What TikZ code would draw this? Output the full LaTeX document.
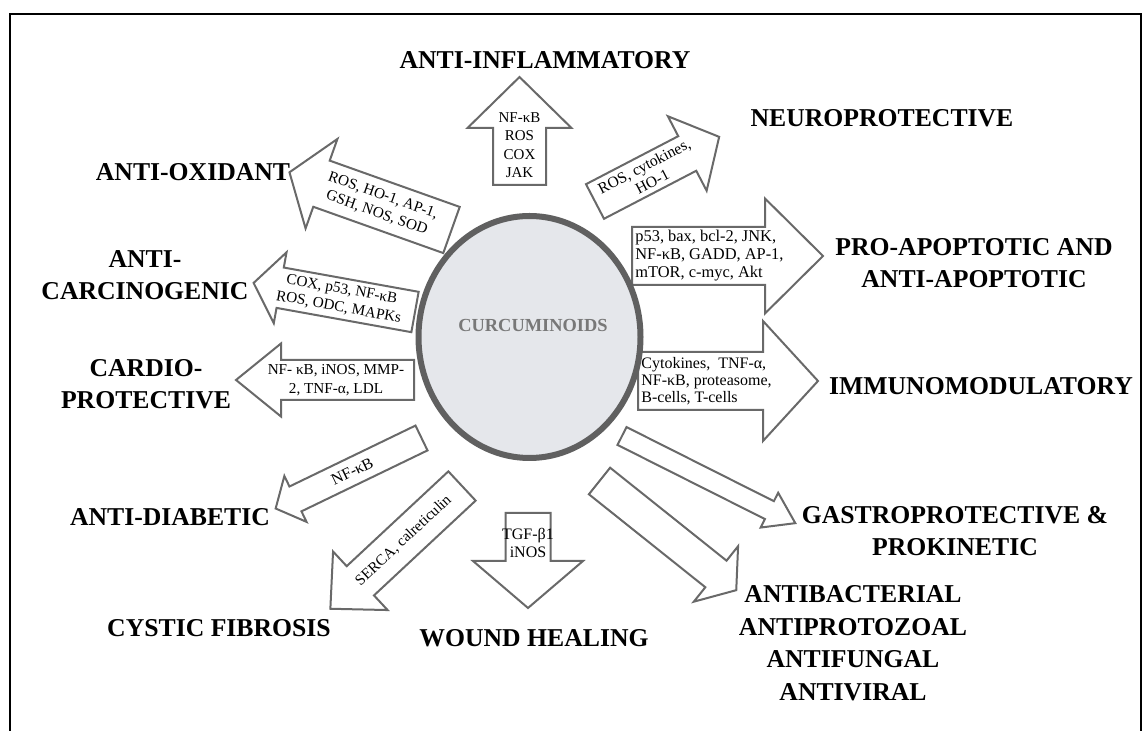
\documentclass[tikz,border=0pt]{standalone}
\usepackage{fontspec}
\setmainfont{Liberation Serif}
\usetikzlibrary{shapes.geometric}
\definecolor{rimgray}{RGB}{96,96,96}
\definecolor{coregray}{RGB}{229,231,235}
\definecolor{arrowgray}{RGB}{105,105,105}
\definecolor{titlegray}{RGB}{120,120,120}

% block arrow: name, tail, direction, length, shaft width, head width, head length, text spot
\newcommand{\blockarrow}[8]{%
  \begin{scope}[shift={#2},rotate=#3]
    \draw[arrowbody] (0,{-#5/2}) -- ({#4-(#7)},{-#5/2}) -- ({#4-(#7)},{-#6/2}) -- (#4,0)
      -- ({#4-(#7)},{#6/2}) -- ({#4-(#7)},{#5/2}) -- (0,{#5/2}) -- cycle;
    \coordinate (#1) at (#8,0);
  \end{scope}}

\begin{document}
\begin{tikzpicture}[x=0.5pt,y=-0.5pt,
 arrowbody/.style={draw=arrowgray,fill=white,line width=1pt},
 tag/.style={font=\fontsize{7.6}{9.2}\selectfont,align=center,inner sep=0pt},
 effect/.style={font=\fontsize{12.85}{16.3}\selectfont\bfseries,align=center,inner sep=0pt},
 core/.style={ellipse,draw=rimgray,fill=coregray,line width=3pt,minimum width=111pt,minimum height=121pt,inner sep=0pt}]
\useasboundingbox (0,0) rectangle (1147,731);
\draw[line width=1.3pt] (10,731) -- (10,14) -- (1141,14) -- (1141,731);

% arrows round the centre
\blockarrow{inflam}{(519.5,185)}{90}{108}{53}{104}{51}{40}
\blockarrow{neuro}{(595,201.5)}{27.5}{140}{39}{84}{36}{60}
\blockarrow{oxid}{(451.5,230)}{-19.6}{-172}{49}{95}{-34}{-76}
\blockarrow{carcino}{(415,312)}{-10.2}{-164}{41}{72}{-27}{-76}
\blockarrow{cardio}{(414,380)}{0}{-178}{40}{73}{-45}{-78}
\blockarrow{apopt}{(632,256)}{0}{191}{58}{115}{58}{3}
\blockarrow{immuno}{(638,381)}{0}{180}{58}{120}{55}{3}
\blockarrow{gastro}{(622,436)}{-26.7}{194}{20}{39}{29}{90}
\blockarrow{microb}{(599.5,481)}{-38.6}{175}{34}{71}{26}{90}
\blockarrow{wound}{(528,513)}{-90}{95}{45}{110}{47}{30}
\blockarrow{cystic}{(462,486)}{43}{-180}{40}{80}{-41}{-80}
\blockarrow{diabet}{(421.5,438)}{25.8}{-162}{27.6}{51}{-22}{-77}

\node[tag,font=\fontsize{7.5}{9.2}\selectfont] (inflam-t) at (inflam) {NF-κB\\ROS\\COX\\JAK};
\node[tag,rotate=27.5,font=\fontsize{7.8}{8.8}\selectfont] (neuro-t) at (neuro) {ROS, cytokines,\\HO-1};
\node[tag,rotate=-19.6] (oxid-t) at (oxid) {ROS, HO-1, AP-1,\\GSH, NOS, SOD};
\node[tag,rotate=-10.2] (carcino-t) at (carcino) {COX, p53, NF-κB\\ROS, ODC, MAPKs};
\node[tag] (cardio-t) at (cardio) {NF- κB, iNOS, MMP-\\2, TNF-α, LDL};
\node[tag,anchor=west,align=left,font=\fontsize{8.2}{9}\selectfont] (apopt-t) at (apopt) {p53, bax, bcl-2, JNK,\\NF-κB, GADD, AP-1,\\mTOR, c-myc, Akt};
\node[tag,anchor=west,align=left,font=\fontsize{8}{8.5}\selectfont] (immuno-t) at (immuno) {Cytokines,\ \ TNF-α,\\NF-κB, proteasome,\\B-cells, T-cells};
\node[tag,font=\fontsize{8}{9}\selectfont] (wound-t) at (wound) {TGF-β1\\iNOS};
\node[tag,rotate=43] (cystic-t) at (cystic) {SERCA, calreticulin};
\node[tag,rotate=25.8,font=\fontsize{8}{8.8}\selectfont] (diabet-t) at (diabet) {NF-κB};

% centre
\node[core] (core) at (529.5,337) {};
\node[font=\fontsize{9.2}{11}\selectfont\bfseries,text=titlegray,inner sep=0pt] (core-t) at (533,326) {CURCUMINOIDS};

% effects
\node[effect] (l-inflam) at (545,60) {ANTI-INFLAMMATORY};
\node[effect] (l-neuro) at (882,118) {NEUROPROTECTIVE};
\node[effect] (l-oxid) at (193,172) {ANTI-OXIDANT};
\node[effect] (l-carcino) at (145,275) {ANTI-\\CARCINOGENIC};
\node[effect] (l-cardio) at (146,384) {CARDIO-\\PROTECTIVE};
\node[effect] (l-diabet) at (170,517) {ANTI-DIABETIC};
\node[effect] (l-cystic) at (219,628) {CYSTIC FIBROSIS};
\node[effect] (l-wound) at (534,638) {WOUND HEALING};
\node[effect] (l-microb) at (853,643) {ANTIBACTERIAL\\ANTIPROTOZOAL\\ANTIFUNGAL\\ANTIVIRAL};
\node[effect] (l-gastro) at (955,531) {GASTROPROTECTIVE \&\\PROKINETIC};
\node[effect] (l-apopt) at (974,263) {PRO-APOPTOTIC AND\\ANTI-APOPTOTIC};
\node[effect] (l-immuno) at (981,386) {IMMUNOMODULATORY};
\end{tikzpicture}
\end{document}
